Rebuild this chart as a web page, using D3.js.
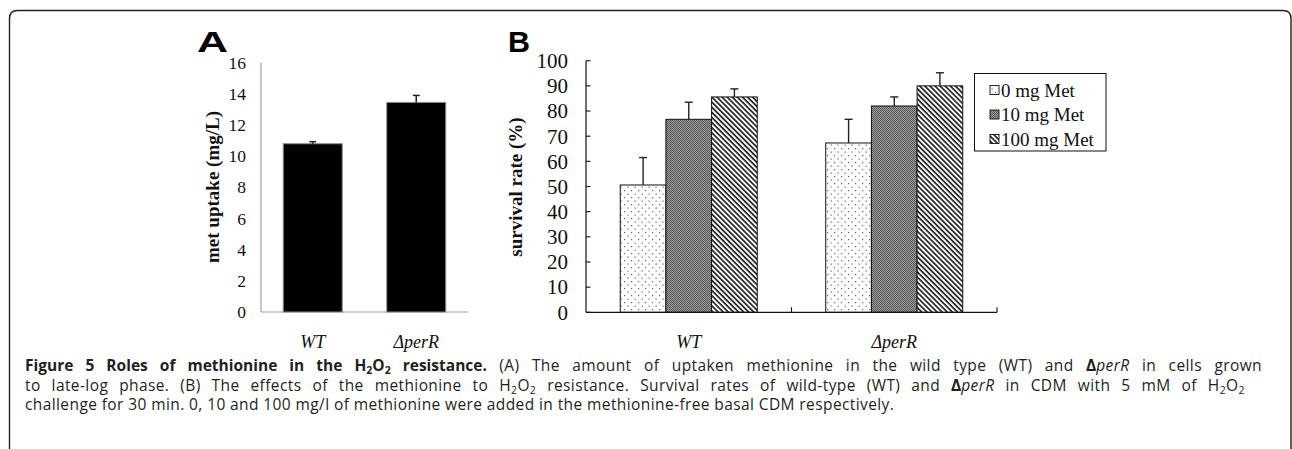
<!DOCTYPE html>
<html><head><meta charset="utf-8">
<script src="https://cdn.jsdelivr.net/npm/d3@7"></script>
<style>
html,body{margin:0;padding:0;background:#fff;}
svg{display:block;}
</style></head>
<body>
<svg id="c" width="1292" height="449"></svg>
<script>
// ---- data ----
const catsA = ["WT", "\u0394perR"];
const uptake = [10.8, 13.45];
const uptakeErr = [0.13, 0.45];
const ticksA = [0, 2, 4, 6, 8, 10, 12, 14, 16];

const catsB = ["WT", "\u0394perR"];
const seriesB = ["0 mg Met", "10 mg Met", "100 mg Met"];
const surv0 = [50.6, 67.3];
const surv0Err = [10.9, 9.4];
const surv10 = [76.7, 82.0];
const surv10Err = [6.8, 3.6];
const surv100 = [85.6, 90.0];
const surv100Err = [3.2, 5.2];
const ticksB = [0, 10, 20, 30, 40, 50, 60, 70, 80, 90, 100];

const svg = d3.select("#c");
const serif = "'Liberation Serif','Times New Roman',serif";
const sans = "'Liberation Sans',Arial,sans-serif";

// ---- patterns ----
const defs = svg.append("defs");
const pDot = defs.append("pattern").attr("id","pDot").attr("patternUnits","userSpaceOnUse").attr("width",7).attr("height",7);
pDot.append("rect").attr("width",7).attr("height",7).attr("fill","#fff");
pDot.append("rect").attr("x",1).attr("y",1).attr("width",1.2).attr("height",1.2).attr("fill","#666");
pDot.append("rect").attr("x",4.5).attr("y",4.5).attr("width",1.2).attr("height",1.2).attr("fill","#666");
const pChk = defs.append("pattern").attr("id","pChk").attr("patternUnits","userSpaceOnUse").attr("width",2).attr("height",2);
pChk.append("rect").attr("width",2).attr("height",2).attr("fill","#9a9a9a");
pChk.append("rect").attr("width",1).attr("height",1).attr("fill","#5a5a5a");
pChk.append("rect").attr("x",1).attr("y",1).attr("width",1).attr("height",1).attr("fill","#5a5a5a");
const pStr = defs.append("pattern").attr("id","pStr").attr("patternUnits","userSpaceOnUse").attr("width",3.6).attr("height",3.6).attr("patternTransform","rotate(45)");
pStr.append("rect").attr("width",3.6).attr("height",3.6).attr("fill","#fff");
pStr.append("rect").attr("width",3.6).attr("height",1.7).attr("fill","#222");
const fills = ["url(#pDot)","url(#pChk)","url(#pStr)"];

// ---- frame ----
svg.append("path").attr("d","M9.5,449 V18.5 Q9.5,10.5 17.5,10.5 H1283 Q1291,10.5 1291,18.5 V449")
  .attr("fill","none").attr("stroke","#222").attr("stroke-width",1.4);

// ---- Panel A ----
const xA = d3.scaleBand().domain(catsA).range([261, 468]).paddingInner(0.43).paddingOuter(0.215);
const yA = d3.scaleLinear().domain([0, 16]).range([312, 62.7]);
const gA = svg.append("g");
gA.append("line").attr("x1",261).attr("x2",261).attr("y1",yA(16)).attr("y2",yA(0)).attr("stroke","#a0a0a0").attr("stroke-width",1.2);
gA.append("line").attr("x1",261).attr("x2",468).attr("y1",yA(0)).attr("y2",yA(0)).attr("stroke","#a0a0a0").attr("stroke-width",1.2);
gA.selectAll("text.tk").data(ticksA).join("text").attr("class","tk")
  .attr("x",246).attr("y",d=>yA(d)).attr("dy","0.35em").attr("text-anchor","end")
  .attr("font-family",serif).attr("font-size",17.5).attr("fill","#111").text(d=>d);
gA.selectAll("rect.bar").data(uptake).join("rect").attr("class","bar")
  .attr("x",(d,i)=>xA(catsA[i])).attr("width",xA.bandwidth())
  .attr("y",d=>yA(d)).attr("height",d=>yA(0)-yA(d))
  .attr("fill","#000").attr("stroke","#8a8a8a").attr("stroke-width",1);
uptake.forEach((v,i)=>{
  const cx = xA(catsA[i]) + xA.bandwidth()/2;
  gA.append("line").attr("x1",cx).attr("x2",cx).attr("y1",yA(v)).attr("y2",yA(v+uptakeErr[i])).attr("stroke","#222").attr("stroke-width",1.5);
  gA.append("line").attr("x1",cx-3.5).attr("x2",cx+3.5).attr("y1",yA(v+uptakeErr[i])).attr("y2",yA(v+uptakeErr[i])).attr("stroke","#222").attr("stroke-width",1.5);
});
catsA.forEach(c=>{
  gA.append("text").attr("x",xA(c)+xA.bandwidth()/2).attr("y",348).attr("text-anchor","middle")
    .attr("font-family",serif).attr("font-style","italic").attr("font-size",18).attr("fill","#111").text(c);
});
gA.append("text").attr("transform","translate(212,187) rotate(-90)").attr("dy","0.35em").attr("text-anchor","middle")
  .attr("font-family",serif).attr("font-weight","bold").attr("font-size",19).attr("fill","#111").text("met uptake (mg/L)");
gA.append("text").attr("x",197).attr("y",51.5).attr("font-family",sans).attr("font-weight","bold")
  .attr("font-size",30).attr("textLength",31).attr("lengthAdjust","spacingAndGlyphs").attr("fill","#000").text("A");

// ---- Panel B ----
const x0 = d3.scaleBand().domain(catsB).range([586, 997]).paddingInner(0.3333).paddingOuter(0.16667);
const x1 = d3.scaleBand().domain(seriesB).range([0, x0.bandwidth()]);
const yB = d3.scaleLinear().domain([0, 100]).range([312.3, 60.7]);
const gB = svg.append("g");
const vals = [surv0, surv10, surv100];
const errs = [surv0Err, surv10Err, surv100Err];
seriesB.forEach((s,si)=>{
  catsB.forEach((c,ci)=>{
    const v = vals[si][ci];
    gB.append("rect").attr("x",x0(c)+x1(s)).attr("width",x1.bandwidth())
      .attr("y",yB(v)).attr("height",yB(0)-yB(v))
      .attr("fill",fills[si]).attr("stroke","#111").attr("stroke-width",1);
  });
});
seriesB.forEach((s,si)=>{
  catsB.forEach((c,ci)=>{
    const v = vals[si][ci], e = errs[si][ci];
    const cx = x0(c)+x1(s)+x1.bandwidth()/2;
    gB.append("line").attr("x1",cx).attr("x2",cx).attr("y1",yB(v)).attr("y2",yB(v+e)).attr("stroke","#222").attr("stroke-width",1.4);
    gB.append("line").attr("x1",cx-4).attr("x2",cx+4).attr("y1",yB(v+e)).attr("y2",yB(v+e)).attr("stroke","#222").attr("stroke-width",1.4);
  });
});
gB.append("line").attr("x1",586).attr("x2",586).attr("y1",yB(100)).attr("y2",yB(0)).attr("stroke","#111").attr("stroke-width",1.2);
gB.append("line").attr("x1",586).attr("x2",997).attr("y1",yB(0)).attr("y2",yB(0)).attr("stroke","#111").attr("stroke-width",1.2);
gB.selectAll("line.ytk").data(ticksB).join("line").attr("class","ytk")
  .attr("x1",586).attr("x2",590.5).attr("y1",d=>yB(d)).attr("y2",d=>yB(d)).attr("stroke","#111").attr("stroke-width",1.1);
const catEdges = [x0.range()[0] + x0.step()*1, x0.range()[1]];
gB.selectAll("line.xtk").data(catEdges).join("line").attr("class","xtk")
  .attr("x1",d=>d).attr("x2",d=>d).attr("y1",yB(0)).attr("y2",yB(0)-5).attr("stroke","#111").attr("stroke-width",1.1);
gB.selectAll("text.tk").data(ticksB).join("text").attr("class","tk")
  .attr("x",568).attr("y",d=>yB(d)).attr("dy","0.35em").attr("text-anchor","end")
  .attr("font-family",serif).attr("font-size",21).attr("fill","#111").text(d=>d);
catsB.forEach(c=>{
  gB.append("text").attr("x",x0(c)+x0.bandwidth()/2).attr("y",348).attr("text-anchor","middle")
    .attr("font-family",serif).attr("font-style","italic").attr("font-size",18).attr("fill","#111").text(c);
});
gB.append("text").attr("transform","translate(515,187) rotate(-90)").attr("dy","0.35em").attr("text-anchor","middle")
  .attr("font-family",serif).attr("font-weight","bold").attr("font-size",19).attr("fill","#111").text("survival rate (%)");
gB.append("text").attr("x",508).attr("y",51.5).attr("font-family",sans).attr("font-weight","bold")
  .attr("font-size",30).attr("textLength",22).attr("lengthAdjust","spacingAndGlyphs").attr("fill","#000").text("B");

// legend
const lg = gB.append("g");
lg.append("rect").attr("x",974.5).attr("y",73.5).attr("width",131.5).attr("height",77.5).attr("fill","#fff").attr("stroke","#111").attr("stroke-width",1);
const legY = [90, 114.5, 139];
seriesB.forEach((s,i)=>{
  lg.append("rect").attr("x",990).attr("y",legY[i]-4.5).attr("width",9).attr("height",9).attr("fill",fills[i]).attr("stroke","#111").attr("stroke-width",0.9);
  lg.append("text").attr("x",1001).attr("y",legY[i]).attr("dy","0.35em").attr("font-family",serif).attr("font-size",19).attr("fill","#111").text(s);
});

// ---- caption (justified lines: stretch the word spaces) ----
const capFont = "'Open Sans','Noto Sans',sans-serif";
const capLines = [
  {y:370.5, target:1237, parts:[
    {t:"Figure 5 Roles of methionine in the H", b:1},{t:"2", b:1, s:1},{t:"O", b:1},{t:"2", b:1, s:1},{t:" resistance.", b:1},
    {t:" (A) The amount of uptaken methionine in the wild type (WT) and "},{t:"\u0394", b:1},{t:"perR", i:1},{t:" in cells grown"}]},
  {y:390.5, target:1220, parts:[
    {t:"to late-log phase. (B) The effects of the methionine to H"},{t:"2",s:1},{t:"O"},{t:"2",s:1},{t:" resistance. Survival rates of wild-type (WT) and "},
    {t:"\u0394", b:1},{t:"perR", i:1},{t:" in CDM with 5 mM of H"},{t:"2",s:1},{t:"O"},{t:"2",s:1}]},
  {y:410, target:null, parts:[
    {t:"challenge for 30 min. 0, 10 and 100 mg/l of methionine were added in the methionine-free basal CDM respectively."}]}
];
const capTexts = capLines.map(L=>{
  const t = svg.append("text").attr("x",25).attr("y",L.y).attr("font-family",capFont).attr("font-size",15.5)
    .attr("letter-spacing",0.4).attr("fill","#231f20");
  let prevSub = false;
  L.parts.forEach(p=>{
    const ts = t.append("tspan").text(p.t);
    if (p.b) ts.attr("font-weight","bold").attr("letter-spacing",0);
    if (p.i) ts.attr("font-style","italic");
    if (p.s) { ts.attr("font-size",10.5); if (!prevSub) ts.attr("dy",3.5); }
    else if (prevSub) ts.attr("dy",-3.5);
    prevSub = !!p.s;
  });
  return t;
});
function justify(){
  capLines.forEach((L,i)=>{
    if (!L.target) return;
    const t = capTexts[i];
    t.attr("word-spacing", 0);
    const w = t.node().getComputedTextLength();
    const nSpaces = L.parts.map(p=>p.t).join("").split(" ").length - 1;
    t.attr("word-spacing", Math.max(0,(L.target - w)/nSpaces));
  });
}
const loads = ["15px 'Open Sans'","bold 15px 'Open Sans'","italic 15px 'Open Sans'"].map(f=>document.fonts.load(f));
Promise.all(loads).then(()=>document.fonts.ready).then(justify).catch(justify);
justify();
</script>
</body></html>
